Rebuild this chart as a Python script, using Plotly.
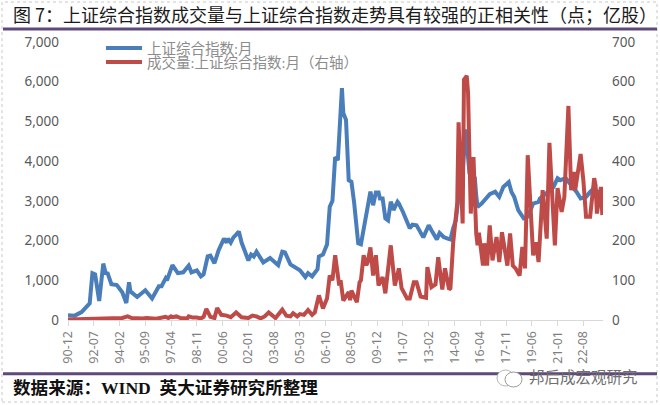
import plotly.graph_objects as go

TITLE = "图 7：上证综合指数成交量与上证综合指数走势具有较强的正相关性（点；亿股）"
SOURCE = "数据来源：WIND  英大证券研究所整理"
WATERMARK = "邦后成宏观研究"
NAME_INDEX = "上证综合指数:月"
NAME_VOLUME = "成交量:上证综合指数:月（右轴）"

tick_labels = ["90-12","92-07","94-02","95-09","97-04","98-11","00-06","02-01","03-08","05-03",
               "06-10","08-05","09-12","11-07","13-02","14-09","16-04","17-11","19-06","21-01","22-08"]
tick_months = [0,19,38,57,76,95,114,133,152,171,190,209,228,247,266,285,304,323,342,361,380]

index_months = [0,5,10,16,18,20,23,26,28,29,32,36,40,43,45,46,51,57,62,67,69,72,73,77,81,85,89,91,95,98,100,103,105,108,111,115,117,118,120,122,124,126,128,131,133,135,137,139,144,149,155,158,160,164,168,171,175,177,180,184,185,188,191,193,195,197,199,202,203,205,207,209,211,214,216,219,223,225,227,229,230,232,234,236,238,239,240,243,244,247,250,252,254,257,262,266,268,272,274,277,280,282,284,286,288,289,291,292,293,294,296,298,300,301,302,305,311,315,318,321,325,327,329,332,336,339,342,343,347,348,353,358,361,363,367,370,375,378,382,385,388,394]
index_values = [120,110,200,420,1180,1150,480,1420,1150,1200,900,880,700,430,950,720,580,750,540,850,850,1050,1000,1380,1180,1200,1370,1200,1250,1100,1150,1600,1620,1430,1750,2050,1950,2050,1950,2080,2150,2230,1950,1700,1500,1650,1600,1720,1450,1560,1380,1720,1700,1400,1320,1250,1080,1180,1100,1280,1600,1650,1900,2850,3000,4100,4025,5838,5210,5040,3520,3480,2950,1930,1905,2430,3230,2890,3210,3210,3060,3060,2560,2510,2975,2890,2770,2975,2930,2720,2430,2310,2400,2385,2080,2385,2260,2030,2190,2090,2050,2030,2310,2510,3100,3200,3700,4400,4800,4500,3700,3600,3570,3140,2850,2930,3170,3230,3100,3350,3470,3225,3100,2765,2560,2600,2850,2930,2975,3060,3200,3350,3570,3520,3570,3450,3225,3060,3100,3225,3320,3100]

volume_months = [0,20,40,44,47,55,58,65,68,72,74,76,77,80,83,88,89,92,95,98,100,102,105,108,110,113,117,120,124,128,133,136,139,142,145,148,153,158,161,164,166,169,171,174,177,180,182,185,188,191,193,195,197,200,201,203,207,208,209,213,215,216,218,220,221,223,225,227,229,232,234,238,241,244,246,250,252,255,257,260,264,265,268,271,273,276,278,281,282,284,287,288,291,292,294,295,297,299,301,302,303,306,307,309,311,313,316,318,320,324,326,328,330,333,335,337,339,342,343,345,347,350,353,355,359,361,364,366,369,371,373,374,376,378,380,382,385,388,389,390,393,394]
volume_values = [1,3,5,9,5,4,5,3,5,8,5,9,7,9,5,4,9,6,6,4,8,28,8,5,30,13,11,7,19,7,5,11,9,4,9,19,5,26,11,9,17,9,15,13,25,13,19,62,29,54,112,100,163,87,100,49,70,50,74,45,95,100,163,138,145,183,112,163,87,108,67,188,87,130,80,54,54,95,95,59,56,133,83,90,158,77,130,77,80,193,294,498,243,605,615,572,268,410,218,188,220,137,193,137,238,150,209,146,221,137,218,137,130,112,184,130,415,243,163,196,146,327,205,446,188,332,272,310,539,327,373,327,382,418,352,260,260,357,340,268,335,264]

BLUE = "#4a7ebb"
RED = "#be4b48"
PURPLE = "#5f497a"
GRAY = "#595959"
W, H = 660, 405
L, R, T, B = 68, 57, 42, 85
PW, PH = W - L - R, H - T - B

def px(x):
    return (x - L) / PW

def py(y):
    return (H - B - y) / PH

fig = go.Figure()
fig.add_trace(go.Scatter(x=index_months, y=index_values, name=NAME_INDEX, mode="lines", yaxis="y",
                         line=dict(color=BLUE, width=4), legend="legend"))
fig.add_trace(go.Scatter(x=volume_months, y=volume_values, name=NAME_VOLUME, mode="lines", yaxis="y2",
                         line=dict(color=RED, width=4), legend="legend2"))

legend_font = dict(family="Liberation Serif, Noto Sans CJK SC", size=14.5, color="#8c8c8c")
shapes = [
    dict(type="rect", xref="paper", yref="paper", x0=px(2), x1=px(657), y0=py(402), y1=py(2),
         line=dict(color="#c8c8c8", width=1, dash="dot"), layer="below"),
    dict(type="line", xref="paper", yref="paper", x0=px(3), x1=px(657), y0=py(29), y1=py(29),
         line=dict(color=PURPLE, width=3)),
    dict(type="line", xref="paper", yref="paper", x0=px(3), x1=px(657), y0=py(373.7), y1=py(373.7),
         line=dict(color=PURPLE, width=3)),
    dict(type="circle", xref="paper", yref="paper", x0=px(497), x1=px(514), y0=py(386), y1=py(370),
         fillcolor="white", line=dict(color="#b5b5b5", width=1)),
    dict(type="circle", xref="paper", yref="paper", x0=px(505), x1=px(522), y0=py(387), y1=py(372),
         fillcolor="white", line=dict(color="#9a9a9a", width=1)),
]
annotations = [
    dict(text=TITLE, x=px(11), y=py(14), xref="paper", yref="paper", xanchor="left", yanchor="middle",
         showarrow=False, font=dict(family="Noto Sans CJK SC", size=18, color="#1a1a1a")),
    dict(text="<b>" + SOURCE.replace("  ", "&nbsp;&nbsp;") + "</b>", x=px(11), y=py(388), xref="paper", yref="paper", xanchor="left", yanchor="middle",
         showarrow=False, font=dict(family="Liberation Serif, Noto Sans CJK SC", size=17.6, color="#111111")),
    dict(text=WATERMARK, x=px(527), y=py(376), xref="paper", yref="paper", xanchor="left", yanchor="middle",
         showarrow=False, font=dict(family="Noto Sans CJK SC", size=15.5, color="#6f6f6f")),
]

fig.update_layout(
    width=W, height=H, autosize=False,
    margin=dict(l=L, r=R, t=T, b=B, pad=0),
    paper_bgcolor="white", plot_bgcolor="white",
    shapes=shapes, annotations=annotations, showlegend=True,
    legend=dict(x=px(101), y=py(32), xanchor="left", yanchor="top", bgcolor="rgba(0,0,0,0)",
                font=legend_font, itemwidth=36, borderwidth=0),
    legend2=dict(x=px(101), y=py(46), xanchor="left", yanchor="top", bgcolor="rgba(0,0,0,0)",
                 font=legend_font, itemwidth=36, borderwidth=0),
    xaxis=dict(range=[0, 394.5], tickmode="array", tickvals=tick_months, ticktext=tick_labels,
               tickangle=-90, showgrid=False, zeroline=False, showline=True, linecolor="#d9d9d9", linewidth=1,
               ticks="outside", ticklen=5, tickcolor="#d9d9d9",
               tickfont=dict(family="Noto Sans", size=12.5, color="#7f7f7f")),
    yaxis=dict(range=[0, 7000], tickmode="array", tickvals=[0,1000,2000,3000,4000,5000,6000,7000],
               tickformat=",d", showgrid=False, zeroline=False, showline=False, ticks="", ticklabelstandoff=8,
               tickfont=dict(family="Noto Sans", size=13.5, color=GRAY)),
    yaxis2=dict(range=[0, 700], overlaying="y", side="right", tickmode="array",
                tickvals=[0,100,200,300,400,500,600,700], showgrid=False, zeroline=False, ticklabelstandoff=8,
                showline=False, ticks="", tickfont=dict(family="Noto Sans", size=13.5, color=GRAY)),
)
fig.write_html("out.html", post_script="document.body.style.margin='0';", config=dict(displayModeBar=False))
